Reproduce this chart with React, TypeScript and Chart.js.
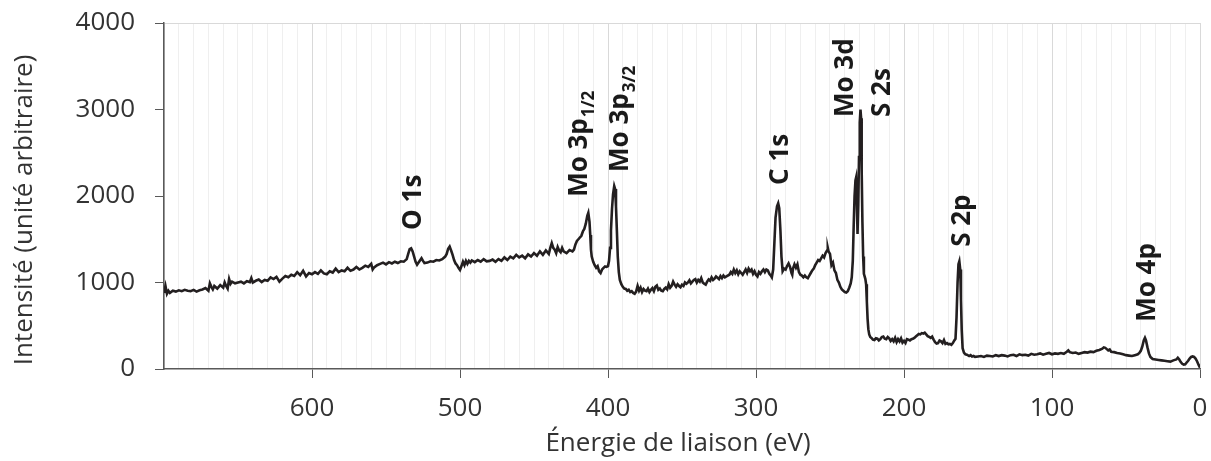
import React, { useEffect, useRef } from "react";
import { Chart, registerables } from "chart.js";
Chart.register(...registerables);

// Binding energy (eV) of each sampled point of the survey spectrum
const bindingEnergy = [
  700, 699, 698, 697, 696, 694, 692, 690, 688, 686,
  684, 682, 680, 678, 676, 674, 672, 670, 669, 668,
  667, 666, 664, 662, 660, 659, 658, 657, 656, 655,
  654, 652, 650, 648, 646, 644, 642, 641, 640, 638,
  636, 634, 632, 630, 628, 626, 624, 622, 620, 618,
  616, 614, 612, 610, 608, 606, 604, 602, 600, 598,
  596, 594, 592, 590, 588, 586, 584, 582, 580, 578,
  576, 574, 572, 570, 568, 566, 564, 562, 560, 559,
  558, 556, 554, 552, 550, 548, 546, 544, 542, 540,
  538, 536, 535, 534, 533, 532, 531, 530, 529, 528,
  526, 525, 524, 522, 520, 518, 516, 514, 512, 510,
  509, 508, 507, 506, 505, 504, 503, 502, 501, 500,
  499, 498, 497, 496, 495, 494, 493, 492, 490, 488,
  486, 484, 482, 480, 478, 476, 474, 472, 470, 468,
  466, 464, 462, 460, 458, 456, 454, 452, 450, 448,
  446, 444, 442, 440, 439, 438, 437, 436, 435, 434,
  433, 432, 431, 430, 428, 426, 424, 423, 422, 421,
  420, 419, 418, 417, 416, 415, 414, 413.3, 412.5, 412,
  411.5, 411, 410, 409, 408, 407, 406, 405, 404, 403,
  402, 401, 400, 399.3, 398.6, 398, 397.3, 396.6, 395.8, 395.2,
  394.6, 394, 393.4, 392.7, 392, 391, 390, 389, 388, 387,
  386, 385, 384, 383, 382, 381, 380, 379, 378, 377,
  376, 375, 374, 373, 372, 371, 370, 369, 368, 367,
  366, 365, 364, 363, 362, 361, 360, 359, 358, 357,
  356, 355, 354, 353, 352, 351, 350, 349, 348, 347,
  346, 345, 344, 343, 342, 341, 340, 339, 338, 337,
  336, 335, 334, 333, 332, 331, 330, 329, 328, 327,
  326, 325, 324, 323, 322, 321, 320, 318, 317, 316,
  315, 314, 313, 312, 311, 310, 309, 308, 307, 306,
  305, 304, 303, 302, 301, 300, 299, 298, 297, 296,
  295, 294, 293, 292, 291, 290, 289.3, 288.4, 287.6, 286.8,
  285.8, 285, 284.3, 283.5, 282.8, 282, 281, 280, 279, 278,
  277, 276, 275.5, 275, 274, 273, 272, 271, 270, 269,
  268, 267, 266, 265, 264, 263, 262, 261, 260, 259,
  258, 257, 256, 255, 254, 253, 252, 251.5, 251, 250,
  249, 248, 247, 246, 245, 244, 243, 242, 241, 240,
  239, 238, 237, 236, 235.3, 234.6, 234, 233.4, 232.8, 232.4,
  231.9, 231.4, 230.9, 230.4, 229.9, 229.4, 229, 228.6, 228.1, 227.6,
  227.1, 226.6, 226.1, 225.6, 225.1, 224.6, 224.1, 223.5, 222.8, 222,
  221, 220, 219, 218, 217, 216, 215, 214, 213, 212,
  211, 210, 209, 208, 207, 206, 205, 204, 203, 202,
  201, 200, 199, 198, 197, 196, 195, 194, 193, 192,
  191, 190, 189, 188, 187, 186, 185, 184, 183, 182,
  181, 180, 179, 178, 177, 176, 175, 174, 173, 172,
  171, 170, 169, 168, 167, 166, 165.2, 164.5, 163.8, 163.2,
  162.6, 162, 161.5, 161, 160.4, 159.5, 158.5, 157.5, 156, 155,
  154, 153, 152, 150, 148, 146, 144, 142, 140, 138,
  136, 134, 132, 130, 128, 126, 124, 122, 120, 118,
  116, 114, 112, 110, 108, 106, 104, 102, 100, 98,
  96, 94, 92, 90, 89, 88, 86, 84, 82, 80,
  78, 76, 74, 72, 70, 68, 66, 65, 64, 63,
  62, 61, 60, 58, 56, 54, 52, 50, 48, 46,
  44, 42, 41, 40, 39, 38, 37.2, 36.5, 35.5, 34.5,
  33.5, 32, 30, 28, 26, 24, 22, 20, 18, 16,
  15, 14, 13, 12, 11, 10, 9, 8, 7, 6,
  5, 4, 3, 2, 1, 0,
];

// Intensity (arbitrary units) read at each binding energy above
const intensity = [
  880, 960, 870, 905, 880, 905, 895, 910, 900, 915,
  905, 900, 915, 895, 910, 920, 935, 905, 990, 950,
  920, 960, 930, 970, 940, 1000, 960, 930, 1040, 985,
  1010, 990, 1000, 1010, 990, 1015, 1005, 1050, 1000, 1020,
  1035, 1005, 1030, 1020, 1060, 1040, 1065, 1010, 1045, 1075,
  1060, 1090, 1075, 1120, 1085, 1135, 1070, 1110, 1095, 1120,
  1100, 1140, 1105, 1095, 1130, 1115, 1160, 1120, 1140, 1130,
  1170, 1135, 1150, 1180, 1150, 1170, 1195, 1180, 1215, 1150,
  1175, 1200, 1215, 1230, 1210, 1235, 1220, 1240, 1225, 1245,
  1240, 1270, 1330, 1385, 1395, 1360, 1300, 1240, 1205, 1230,
  1280, 1250, 1225, 1230, 1245, 1240, 1260, 1255, 1270, 1300,
  1330, 1390, 1415, 1370, 1320, 1260, 1220, 1200, 1170, 1145,
  1190, 1240, 1200, 1250, 1215, 1250, 1230, 1255, 1235, 1260,
  1240, 1270, 1245, 1250, 1265, 1240, 1270, 1250, 1290, 1260,
  1300, 1280, 1320, 1290, 1310, 1280, 1325, 1300, 1340, 1310,
  1360, 1320, 1370, 1330, 1400, 1455, 1400, 1380, 1340, 1410,
  1370, 1350, 1400, 1360, 1340, 1375, 1360, 1380, 1440, 1480,
  1500, 1520, 1540, 1590, 1620, 1680, 1770, 1805, 1700, 1550,
  1380, 1300, 1240, 1200, 1170, 1190, 1130, 1110, 1150, 1170,
  1185, 1180, 1190, 1250, 1400, 1600, 1850, 2020, 2115, 2080,
  1880, 1600, 1300, 1120, 1030, 980, 950, 930, 925, 905,
  915, 890, 900, 880, 870, 895, 960, 905, 940, 890,
  925, 905, 900, 930, 890, 915, 935, 900, 950, 965,
  915, 930, 905, 900, 925, 940, 920, 980, 940, 960,
  1010, 975, 950, 980, 960, 945, 975, 960, 1000, 985,
  1000, 1025, 990, 1010, 1030, 1040, 1000, 1030, 1010, 1050,
  1000, 985, 975, 1010, 1035, 1020, 1060, 1030, 1045, 1070,
  1055, 1040, 1075, 1050, 1080, 1060, 1070, 1090, 1120, 1100,
  1150, 1110, 1140, 1095, 1130, 1110, 1090, 1120, 1150, 1110,
  1160, 1130, 1150, 1100, 1130, 1090, 1070, 1120, 1100, 1130,
  1150, 1120, 1150, 1140, 1100, 1080, 1060, 1150, 1450, 1750,
  1880, 1915, 1860, 1600, 1300, 1130, 1160, 1150, 1190, 1220,
  1180, 1110, 1090, 1160, 1210, 1170, 1210, 1120, 1090, 1080,
  1060, 1080, 1060, 1050, 1080, 1110, 1140, 1160, 1200, 1230,
  1260, 1250, 1280, 1310, 1290, 1340, 1370, 1400, 1360, 1330,
  1200, 1230, 1140, 1110, 1030, 1000, 950, 920, 905, 890,
  885, 900, 940, 990, 1060, 1250, 1650, 2000, 2180, 2210,
  2000, 1560, 1900, 2450, 2850, 3000, 2900, 2300, 1700, 1300,
  1100, 1070, 1040, 980, 780, 580, 460, 400, 370, 360,
  340, 335, 355, 350, 330, 345, 370, 375, 350, 345,
  370, 355, 325, 345, 320, 360, 310, 345, 320, 355,
  305, 325, 300, 345, 340, 330, 345, 350, 360, 375,
  390, 405, 400, 415, 410, 420, 400, 380, 370, 360,
  375, 340, 310, 295, 300, 330, 320, 300, 335, 290,
  300, 285, 290, 280, 300, 330, 350, 600, 1000, 1210,
  1245, 1150, 800, 450, 240, 190, 170, 165, 150, 160,
  145, 150, 140, 145, 150, 140, 155, 150, 145, 160,
  150, 160, 155, 145, 160, 165, 150, 170, 160, 165,
  155, 175, 165, 170, 180, 165, 175, 185, 170, 180,
  175, 185, 175, 200, 215, 195, 185, 190, 175, 185,
  195, 190, 200, 195, 210, 220, 235, 250, 245, 230,
  215, 225, 200, 195, 185, 180, 170, 160, 155, 150,
  160, 170, 185, 210, 260, 330, 360, 330, 250, 180,
  140, 115, 110, 105, 100, 95, 90, 85, 100, 110,
  130, 110, 80, 60, 50, 55, 75, 95, 120, 140,
  145, 140, 120, 90, 50, 15,
];

// Peak annotations (text, subscript, anchor in data units)
const peakNames = ["O 1s", "Mo 3p", "Mo 3p", "C 1s", "Mo 3d", "S 2s", "S 2p", "Mo 4p"];
const peakSubscripts = ["", "1/2", "3/2", "", "", "", "", ""];
const peakLabelEnergy = [526.4, 414.2, 386.5, 278.4, 234.5, 209.5, 155.4, 30.4];
const peakLabelIntensity = [1608, 1990, 2278, 2128, 2913, 2913, 1412, 546];

const xAxisTitle = "Énergie de liaison (eV)";
const yAxisTitle = "Intensité (unité arbitraire)";
const xMin = 0;
const xMax = 700;
const yMin = 0;
const yMax = 4000;

const FONT = '"Open Sans", sans-serif';

export default function App() {
  const ref = useRef<HTMLCanvasElement>(null);

  useEffect(() => {
    const canvas = ref.current;
    if (!canvas) return;
    const n = Math.min(bindingEnergy.length, intensity.length);
    const points = [];
    for (let i = 0; i < n; i++) points.push({ x: bindingEnergy[i], y: intensity[i] });

    const textPlugin = {
      id: "xpsText",
      afterDraw(chart: any) {
        const { ctx, chartArea, scales } = chart;
        const xs = scales.x;
        const ys = scales.y;
        ctx.save();
        ctx.fillStyle = "#1a1a1a";
        for (let i = 0; i < peakNames.length; i++) {
          const px = xs.getPixelForValue(peakLabelEnergy[i]);
          const py = ys.getPixelForValue(peakLabelIntensity[i]);
          ctx.save();
          ctx.translate(px, py);
          ctx.rotate(-Math.PI / 2);
          ctx.textAlign = "left";
          ctx.textBaseline = "alphabetic";
          ctx.font = `bold 26px ${FONT}`;
          ctx.fillText(peakNames[i], 0, 0);
          if (peakSubscripts[i]) {
            const w = ctx.measureText(peakNames[i]).width;
            ctx.font = `bold 17px ${FONT}`;
            ctx.fillText(peakSubscripts[i], w + 1, 7);
          }
          ctx.restore();
        }
        // axis titles
        ctx.fillStyle = "#333333";
        ctx.font = `26px ${FONT}`;
        ctx.textAlign = "center";
        ctx.textBaseline = "alphabetic";
        ctx.fillText(xAxisTitle, (chartArea.left + chartArea.right) / 2 - 4, 451);
        ctx.save();
        ctx.translate(32, (chartArea.top + chartArea.bottom) / 2 + 14);
        ctx.rotate(-Math.PI / 2);
        ctx.fillText(yAxisTitle, 0, 0);
        ctx.restore();
        ctx.restore();
      },
    };

    const chart = new Chart(canvas, {
      type: "line",
      data: {
        datasets: [
          {
            data: points,
            borderColor: "#231f20",
            borderWidth: 2.6,
            pointRadius: 0,
            tension: 0,
            fill: false,
          },
        ],
      },
      options: {
        animation: false,
        responsive: false,
        devicePixelRatio: 1,
        layout: { padding: { top: 23, right: 11, left: 0, bottom: 0 } },
        plugins: {
          legend: { display: false },
          tooltip: { enabled: false },
          title: { display: false },
        },
        scales: {
          x: {
            type: "linear",
            min: xMin,
            max: xMax,
            reverse: true,
            afterFit: (s: any) => {
              s.height = 92;
              s.paddingLeft = 0;
              s.paddingRight = 0;
            },
            ticks: {
              stepSize: 10,
              autoSkip: false,
              maxRotation: 0,
              minRotation: 0,
              padding: 15,
              color: "#333333",
              font: { family: FONT, size: 26 },
              callback: (v: any) => (Number(v) % 100 === 0 && Number(v) !== xMax ? String(v) : ""),
            },
            grid: {
              lineWidth: 1,
              tickLength: 9,
              color: (c: any) => {
                const v = c.tick ? c.tick.value : 1;
                return v % 100 === 0 ? "#d9d9d9" : "#efefef";
              },
              tickColor: (c: any) => {
                const v = c.tick ? c.tick.value : 1;
                return v % 100 === 0 && v !== xMax ? "#595959" : "rgba(0,0,0,0)";
              },
            },
            border: { color: "#595959", width: 1.5 },
          },
          y: {
            type: "linear",
            min: yMin,
            max: yMax,
            afterFit: (s: any) => {
              s.width = 164;
              s.paddingTop = 0;
              s.paddingBottom = 0;
            },
            ticks: {
              stepSize: 1000,
              padding: 20,
              color: "#333333",
              font: { family: FONT, size: 26 },
              callback: (v: any) => String(v),
            },
            grid: {
              lineWidth: 1,
              tickLength: 9,
              color: (c: any) => (c.tick && c.tick.value === yMax ? "#d9d9d9" : "rgba(0,0,0,0)"),
              tickColor: "#595959",
            },
            border: { color: "#595959", width: 1.5 },
          },
        },
      },
      plugins: [textPlugin],
    });
    return () => chart.destroy();
  }, []);

  return (
    <div style={{ position: "absolute", left: 0, top: 0, width: 1211, height: 461, background: "#fff" }}>
      <canvas ref={ref} width={1211} height={461} style={{ display: "block", width: 1211, height: 461 }} />
    </div>
  );
}
